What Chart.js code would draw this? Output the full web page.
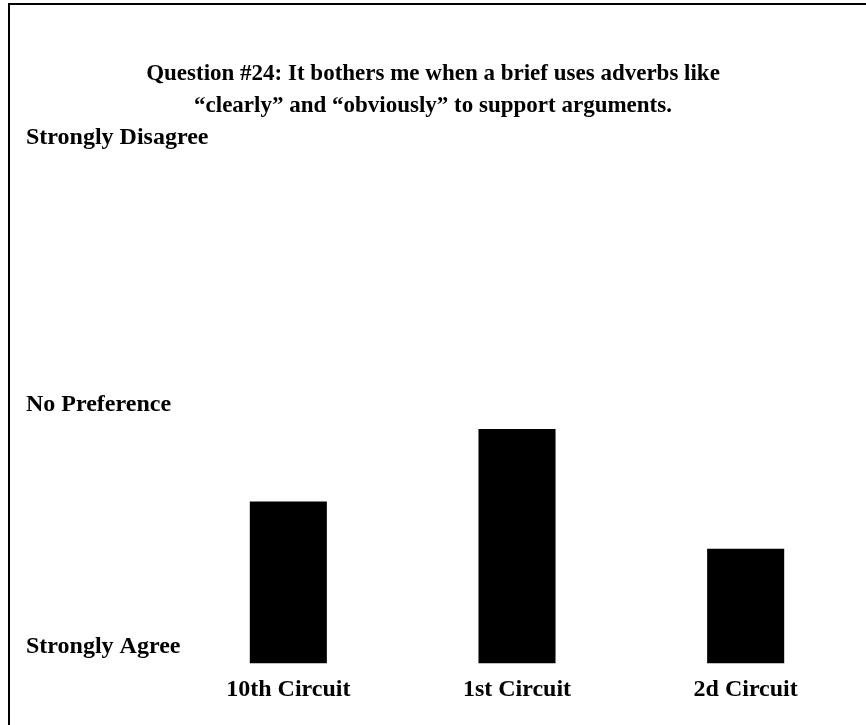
<!DOCTYPE html>
<html>
<head>
<meta charset="utf-8">
<script src="https://cdn.jsdelivr.net/npm/chart.js@4.4.1/dist/chart.umd.min.js"></script>
<style>
  html, body { margin: 0; padding: 0; background: #ffffff; overflow: hidden; }
  #wrap { position: relative; width: 866px; height: 725px; }
  #frame { position: absolute; left: 8px; top: 3px; right: -10px; bottom: -10px;
           border-top: 2px solid #000; border-left: 2px solid #000; pointer-events: none; }
</style>
</head>
<body>
<div id="wrap"><canvas id="chart"></canvas><div id="frame"></div></div>
<script>
// ---- data ----
const titleLines = [
  'Question #24: It bothers me when a brief uses adverbs like',
  '\u201Cclearly\u201D and \u201Cobviously\u201D to support arguments.'
];
const categories = ['10th Circuit', '1st Circuit', '2d Circuit'];
const responseValues = [2.27, 2.84, 1.90];
const scaleTickValues = [1, 3, 5];
const scaleTickLabels = ['Strongly Agree', 'No Preference', 'Strongly Disagree'];

const FONT = "'Liberation Serif', 'Times New Roman', serif";

new Chart(document.getElementById('chart'), {
  type: 'bar',
  data: {
    labels: categories,
    datasets: [{
      data: responseValues,
      backgroundColor: '#000000',
      borderWidth: 0,
      categoryPercentage: 1.0,
      barPercentage: 0.337
    }]
  },
  options: {
    responsive: true,
    maintainAspectRatio: false,
    animation: false,
    devicePixelRatio: 1,
    layout: { padding: { left: 6, right: 6, top: 0, bottom: 9 } },
    plugins: {
      legend: { display: false },
      tooltip: { enabled: false },
      title: {
        display: true,
        text: titleLines,
        color: '#000000',
        font: { family: FONT, size: 23, weight: 'bold', lineHeight: 1.35 },
        padding: { top: 59, bottom: 33 }
      }
    },
    scales: {
      x: {
        grid: { display: false, drawTicks: false },
        border: { display: false },
        ticks: {
          color: '#000000',
          font: { family: FONT, size: 24, weight: 'bold' },
          padding: 12,
          maxRotation: 0,
          autoSkip: false
        }
      },
      y: {
        min: 1,
        max: 5,
        grid: { display: false, drawTicks: false },
        border: { display: false },
        afterBuildTicks: (scale) => {
          scale.ticks = scaleTickValues.map(v => ({ value: v }));
        },
        afterFit: (scale) => { scale.width = 168; },
        ticks: {
          color: '#000000',
          mirror: true,
          crossAlign: 'near',
          labelOffset: -16,
          padding: -148,
          font: (ctx) => ({
            family: FONT, size: 24, weight: 'bold',
            lineHeight: (ctx.tick && ctx.tick.value === 3) ? 1.0 : 1.2
          }),
          callback: (value) => {
            const i = scaleTickValues.indexOf(value);
            if (i < 0) return '';
            return value === 3 ? ['', scaleTickLabels[i]] : scaleTickLabels[i];
          }
        }
      }
    }
  }
});
</script>
</body>
</html>
